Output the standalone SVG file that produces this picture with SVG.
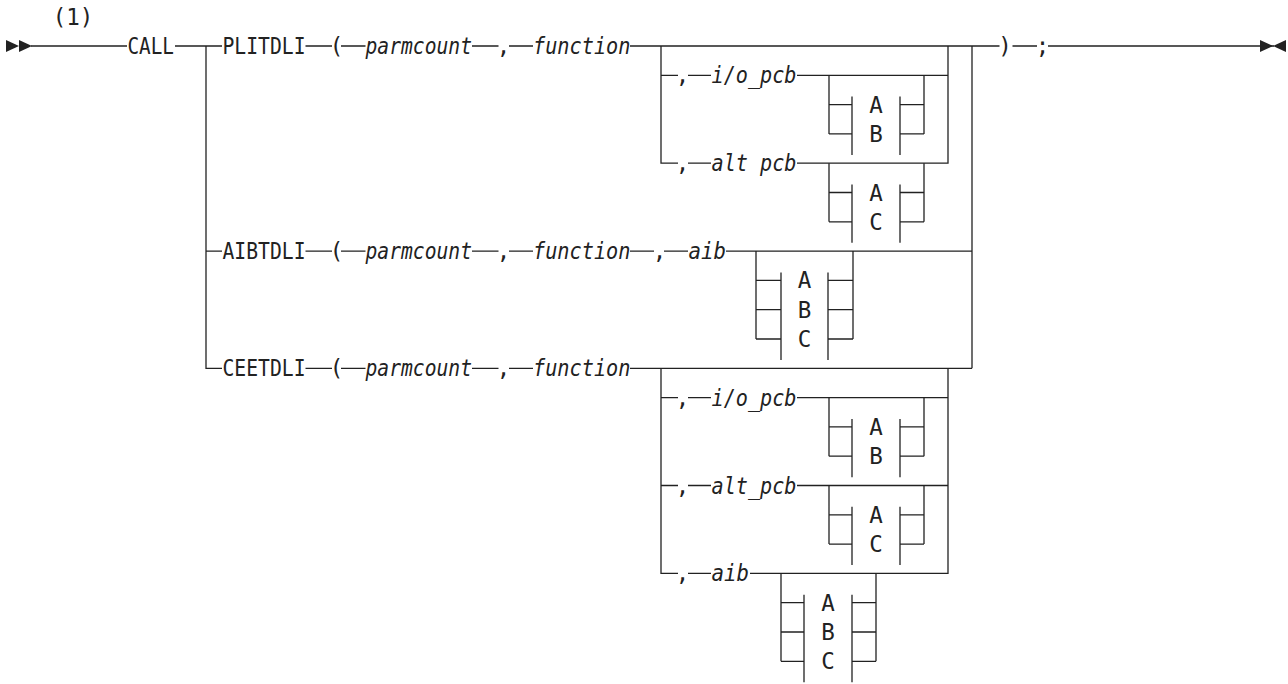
<svg xmlns="http://www.w3.org/2000/svg" width="1288" height="684" viewBox="0 0 1288 684">
<style>
.bg{fill:#ffffff}
.c{fill:none;stroke:#222;stroke-width:1.3}
.t{font-family:"DejaVu Sans Mono","Liberation Mono",monospace;font-size:22.5px;fill:#222}
.i{font-family:"DejaVu Sans Mono","Liberation Mono",monospace;font-size:22.5px;font-style:italic;fill:#222}
.m{text-anchor:middle}
.a{fill:#222}
</style>
<rect class="bg" x="0" y="0" width="1288" height="684"/>
<g id="connectors">
<path class="c" d="M31 46H127M175 46H222M305.5 46H332M341 46H365.5M472 46H498.5M509 46H533M630 46H999.5M1012.5 46H1037M1048 46H1274"/>
<path class="c" d="M206 46V368.3H222M206 251.1H222M972 46V368.3"/>
<path class="c" d="M305.5 251.1H332M341 251.1H365.5M472 251.1H498.5M509 251.1H533M630 251.1H654M664 251.1H688M726 251.1H972"/>
<path class="c" d="M305.5 368.3H332M341 368.3H365.5M472 368.3H498.5M509 368.3H533M630 368.3H972"/>
<path class="c" d="M661 46V163.2H678M948 46V163.2H797M688 163.2H711M661 75.3H678M688 75.3H711M797 75.3H948"/>
<path class="c" d="M829 75.3V133.9M829 104.6H852M829 133.9H852M852 96.6V154.9M900 96.6V154.9M900 104.6H924M900 133.9H924M924 75.3V133.9"/>
<path class="c" d="M829 163.2V221.8M829 192.5H852M829 221.8H852M852 184.5V242.8M900 184.5V242.8M900 192.5H924M900 221.8H924M924 163.2V221.8"/>
<path class="c" d="M756 251.1V339M756 280.4H781M756 309.7H781M756 339H781M781 272.4V360M828 272.4V360M828 280.4H853M828 309.7H853M828 339H853M853 251.1V339"/>
<path class="c" d="M661 368.3V573.4H678M948 368.3V573.4H750M688 573.4H711M661 397.6H678M688 397.6H711M797 397.6H948M661 485.5H678M688 485.5H711M797 485.5H948"/>
<path class="c" d="M829 397.6V456.2M829 426.9H852M829 456.2H852M852 418.9V477.2M900 418.9V477.2M900 426.9H924M900 456.2H924M924 397.6V456.2"/>
<path class="c" d="M829 485.5V544.1M829 514.8H852M829 544.1H852M852 506.8V565.1M900 506.8V565.1M900 514.8H924M900 544.1H924M924 485.5V544.1"/>
<path class="c" d="M781 573.4V661.3M781 602.7H804M781 632H804M781 661.3H804M804 594.7V682.3M852 594.7V682.3M852 602.7H876M852 632H876M852 661.3H876M876 573.4V661.3"/>
</g>
<g id="start">
<polygon class="a" points="6,40 19,46 6,52"/>
<polygon class="a" points="19,40 32,46 19,52"/>
<text class="t m" x="73" y="25">(1)</text>
</g>
<g id="call">
<text class="t" x="127.5" y="54" textLength="46.5" lengthAdjust="spacingAndGlyphs">CALL</text>
</g>
<g id="plitdli">
<text class="t" x="222.5" y="54" textLength="83" lengthAdjust="spacingAndGlyphs">PLITDLI</text>
<text class="t m" x="336.5" y="54">(</text>
<text class="i" x="365.5" y="54" textLength="106.5" lengthAdjust="spacingAndGlyphs">parmcount</text>
<text class="t m" x="503.5" y="54">,</text>
<text class="i" x="533" y="54" textLength="97.5" lengthAdjust="spacingAndGlyphs">function</text>
</g>
<g id="plitdli-iopcb">
<text class="t m" x="682.5" y="83.3">,</text>
<text class="i" x="711.5" y="83.3" textLength="85" lengthAdjust="spacingAndGlyphs">i/o_pcb</text>
<text class="t m" x="876" y="112.6">A</text>
<text class="t m" x="876" y="141.9">B</text>
</g>
<g id="plitdli-altpcb">
<text class="t m" x="682.5" y="171.2">,</text>
<text class="i" x="711.5" y="171.2" textLength="85" lengthAdjust="spacingAndGlyphs">alt pcb</text>
<text class="t m" x="876" y="200.5">A</text>
<text class="t m" x="876" y="229.8">C</text>
</g>
<g id="aibtdli">
<text class="t" x="222.5" y="259.1" textLength="83" lengthAdjust="spacingAndGlyphs">AIBTDLI</text>
<text class="t m" x="336.5" y="259.1">(</text>
<text class="i" x="365.5" y="259.1" textLength="106.5" lengthAdjust="spacingAndGlyphs">parmcount</text>
<text class="t m" x="503.5" y="259.1">,</text>
<text class="i" x="533" y="259.1" textLength="97.5" lengthAdjust="spacingAndGlyphs">function</text>
<text class="t m" x="659.5" y="259.1">,</text>
<text class="i" x="688.5" y="259.1" textLength="37.5" lengthAdjust="spacingAndGlyphs">aib</text>
<text class="t m" x="804.5" y="288.4">A</text>
<text class="t m" x="804.5" y="317.7">B</text>
<text class="t m" x="804.5" y="347">C</text>
</g>
<g id="ceetdli">
<text class="t" x="222.5" y="376.3" textLength="83" lengthAdjust="spacingAndGlyphs">CEETDLI</text>
<text class="t m" x="336.5" y="376.3">(</text>
<text class="i" x="365.5" y="376.3" textLength="106.5" lengthAdjust="spacingAndGlyphs">parmcount</text>
<text class="t m" x="503.5" y="376.3">,</text>
<text class="i" x="533" y="376.3" textLength="97.5" lengthAdjust="spacingAndGlyphs">function</text>
</g>
<g id="ceetdli-iopcb">
<text class="t m" x="682.5" y="405.6">,</text>
<text class="i" x="711.5" y="405.6" textLength="85" lengthAdjust="spacingAndGlyphs">i/o_pcb</text>
<text class="t m" x="876" y="434.9">A</text>
<text class="t m" x="876" y="464.2">B</text>
</g>
<g id="ceetdli-altpcb">
<text class="t m" x="682.5" y="493.5">,</text>
<text class="i" x="711.5" y="493.5" textLength="85" lengthAdjust="spacingAndGlyphs">alt_pcb</text>
<text class="t m" x="876" y="522.8">A</text>
<text class="t m" x="876" y="552.1">C</text>
</g>
<g id="ceetdli-aib">
<text class="t m" x="682.5" y="581.4">,</text>
<text class="i" x="711.5" y="581.4" textLength="37.5" lengthAdjust="spacingAndGlyphs">aib</text>
<text class="t m" x="828" y="610.7">A</text>
<text class="t m" x="828" y="640">B</text>
<text class="t m" x="828" y="669.3">C</text>
</g>
<g id="end">
<text class="t m" x="1005" y="54">)</text>
<text class="t m" x="1042.5" y="54">;</text>
<polygon class="a" points="1260,40 1273,46 1260,52"/>
<polygon class="a" points="1286,40 1273,46 1286,52"/>
</g>
</svg>
